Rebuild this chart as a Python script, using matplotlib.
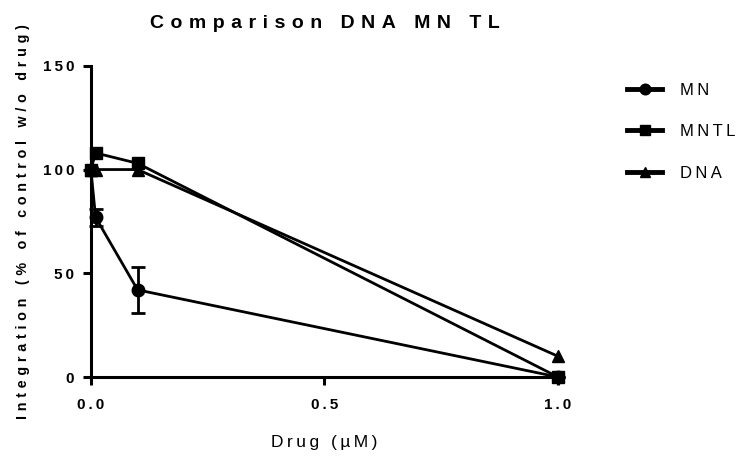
import numpy as np
import matplotlib
matplotlib.use("Agg")
import matplotlib.pyplot as plt

#---- Donnees
dose = [0.0, 0.01, 0.1, 1.0]
mn = [100, 77, 42, 0]
mn_err = [0, 4, 11, 0]
mntl = [100, 108, 103, 0]
dna = [100, 100, 100, 10]

xticks = [0.0, 0.5, 1.0]
yticks = [0, 50, 100, 150]

WIDE = "\u2004"   # espacement gras
THIN = "\u2009"   # espacement normal


def spaced(s, sep=WIDE):
    # espacement des lettres facon Prism
    return sep.join(s)


plt.rcParams['font.family'] = ['Liberation Sans', 'DejaVu Sans']

fig = plt.figure(figsize=(7.45, 4.57), dpi=100)
ax = fig.add_axes([0.122, 0.175, 0.627, 0.681])

lw = 2.0
ms = 9
ax.errorbar(dose, mn, yerr=mn_err, fmt='none', ecolor='black', capsize=5,
            capthick=lw, elinewidth=lw, zorder=3, clip_on=False)
ax.plot(dose, mn, color='black', lw=lw, marker='o', ms=ms, label=spaced("MN", THIN), zorder=3)
ax.plot(dose, mntl, color='black', lw=lw, marker='s', ms=ms, label=spaced("MNTL", THIN), zorder=3)
ax.plot(dose, dna, color='black', lw=lw, marker='^', ms=ms, label=spaced("DNA", THIN), zorder=3)

ax.set_xlim(0, 1.0)
ax.set_ylim(0, 150)
ax.set_xticks(xticks)
ax.set_yticks(yticks)
ax.set_xticklabels([spaced("%.1f" % v, THIN) for v in xticks], fontweight='bold', fontsize=11)
ax.set_yticklabels([spaced("%d" % v, THIN) for v in yticks], fontweight='bold', fontsize=11)

for sp in ['top', 'right']:
    ax.spines[sp].set_visible(False)
for sp in ['left', 'bottom']:
    ax.spines[sp].set_linewidth(2.2)
ax.tick_params(width=2.2, length=6)
ax.tick_params(axis='x', pad=9)
ax.tick_params(axis='y', pad=6)

ax.set_xlabel(spaced("Drug (µM)", THIN), fontsize=12.5, labelpad=17)
ax.set_ylabel(spaced("Integration (% of control w/o drug)"), fontsize=10.3,
              fontweight='bold', labelpad=9)
ax.set_title(spaced("Comparison DNA MN TL"), fontsize=14, fontweight='bold', pad=27)

for line in ax.get_lines():
    line.set_clip_on(False)

leg = ax.legend(loc='upper left', bbox_to_anchor=(612 / 745, 1 - 68 / 457),
                bbox_transform=fig.transFigure, frameon=False,
                fontsize=12, handlelength=2.1, labelspacing=1.58,
                handletextpad=1.1, markerscale=0.85)
for h in leg.legend_handles:
    h.set_linewidth(3.5)

fig.savefig("out.png", dpi=100)
